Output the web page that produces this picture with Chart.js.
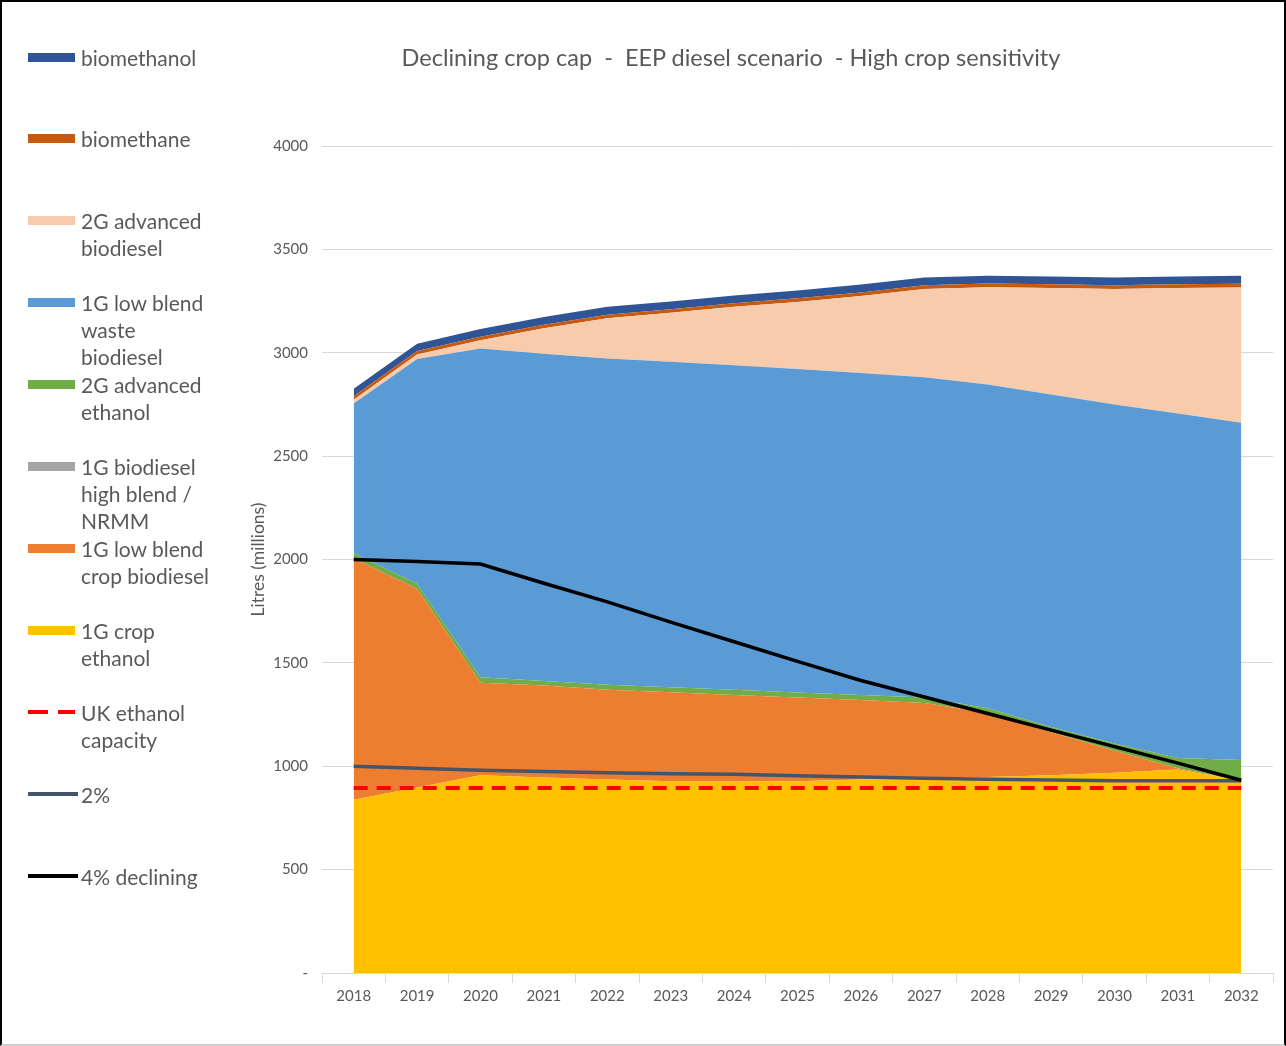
<!DOCTYPE html>
<html>
<head>
<meta charset="utf-8">
<title>Declining crop cap - EEP diesel scenario - High crop sensitivity</title>
<script src="https://cdn.jsdelivr.net/npm/chart.js@4.4.1/dist/chart.umd.min.js"></script>
<style>
  html, body { margin: 0; padding: 0; background: #fff; }
  #chart { position: absolute; left: 0; top: 0; }
  #frame {
    position: absolute; left: 0; top: 0; width: 1286px; height: 1046px;
    box-sizing: border-box; border: 2px solid #000; border-bottom-color: #cfcfcf;
    pointer-events: none;
  }
  #title {
    position: absolute; left: 0; top: 42px; width: 1462px; text-align: center;
    font: 23.5px/30px Lato, "Open Sans", sans-serif; color: #595959; white-space: pre;
  }
  .item {
    position: absolute; left: 81px; font: 21px/27px Lato, "Open Sans", sans-serif;
    color: #595959; white-space: pre;
  }
  .swatch { position: absolute; left: 28px; width: 47px; }
</style>
</head>
<body>
<canvas id="chart" width="1286" height="1046"></canvas>
<div id="title">Declining crop cap  -  EEP diesel scenario  - High crop sensitivity</div>
<div id="legend"></div>
<div id="frame"></div>
<script>
const years = ['2018', '2019', '2020', '2021', '2022', '2023', '2024', '2025',
               '2026', '2027', '2028', '2029', '2030', '2031', '2032'];

// stacked volumes, litres (millions), bottom to top
const cropEthanol      = [838, 897, 956, 945, 936, 928, 926, 927, 936, 941, 948, 956, 968, 984, 930];
const cropBiodiesel    = [1167, 961, 448, 445, 434, 430, 419, 406, 385, 365, 310, 209, 107, 6, 0];
const highBlendNrmm    = [0, 0, 0, 0, 0, 0, 0, 0, 0, 0, 0, 0, 0, 0, 0];
const advancedEthanol  = [25, 25, 26, 22, 24, 24, 25, 24, 24, 26, 22, 25, 35, 50, 100];
const wasteBiodiesel   = [724, 1087, 1590, 1583, 1578, 1575, 1570, 1565, 1557, 1550, 1566, 1608, 1640, 1666, 1631];
const advancedBiodiesel = [19, 21, 41, 123, 195, 236, 282, 324, 372, 426, 471, 515, 558, 607, 655];
const biomethane       = [17, 17, 16, 17, 17, 17, 17, 17, 18, 18, 18, 18, 18, 18, 18];
const biomethanol      = [36, 35, 38, 38, 38, 38, 38, 38, 38, 38, 38, 38, 38, 38, 38];

// reference lines
const ukEthanolCapacity = [895, 895, 895, 895, 895, 895, 895, 895, 895, 895, 895, 895, 895, 895, 895];
const twoPercent        = [1000, 990, 981, 975, 968, 964, 961, 954, 948, 942, 937, 933, 930, 930, 930];
const fourPercentDecl   = [2000, 1990, 1978, 1885, 1795, 1697, 1602, 1507, 1415, 1335, 1255, 1175, 1095, 1015, 932];

const FONT = 'Lato, "Open Sans", sans-serif';
const GREY_TEXT = '#595959';

function area(label, data, color, idx) {
  return {
    label, data, type: 'line',
    backgroundColor: color, borderColor: color, borderWidth: 0,
    pointRadius: 0, tension: 0,
    fill: idx === 0 ? 'origin' : '-1',
    stack: 'fuels', order: 1,
  };
}

function refLine(label, data, color, width, dash, order) {
  return {
    label, data, type: 'line',
    borderColor: color, backgroundColor: color, borderWidth: width,
    borderDash: dash, borderCapStyle: 'butt',
    pointRadius: 0, tension: 0, fill: false,
    stack: label, order,
  };
}

const areas = [
  ['1G crop ethanol', cropEthanol, '#ffc000'],
  ['1G low blend crop biodiesel', cropBiodiesel, '#ed7d31'],
  ['1G biodiesel high blend / NRMM', highBlendNrmm, '#a5a5a5'],
  ['2G advanced ethanol', advancedEthanol, '#70ad47'],
  ['1G low blend waste biodiesel', wasteBiodiesel, '#5b9bd5'],
  ['2G advanced biodiesel', advancedBiodiesel, '#f8cbad'],
  ['biomethane', biomethane, '#c55a11'],
  ['biomethanol', biomethanol, '#2f5597'],
].map((a, i) => area(a[0], a[1], a[2], i));

const lines = [
  refLine('UK ethanol capacity', ukEthanolCapacity, '#ff0000', 4, [14, 9], 0),
  refLine('2%', twoPercent, '#44546a', 3.5, [], -1),
  refLine('4% declining', fourPercentDecl, '#000000', 3.5, [], -2),
];

new Chart(document.getElementById('chart'), {
  type: 'line',
  data: { labels: years, datasets: [...areas, ...lines] },
  options: {
    responsive: false,
    devicePixelRatio: 1,
    animation: false,
    layout: { padding: { left: 240, right: 13, top: 146, bottom: 0 } },
    plugins: { legend: { display: false }, tooltip: { enabled: false } },
    scales: {
      x: {
        offset: true,
        grid: { offset: true, drawOnChartArea: false, drawTicks: true, tickLength: 10, color: '#d9d9d9' },
        border: { color: '#d9d9d9' },
        ticks: { color: GREY_TEXT, font: { family: FONT, size: 15 }, padding: 4, maxRotation: 0 },
        afterFit: s => { s.height = 73; },
      },
      y: {
        stacked: true,
        min: 0, max: 4000,
        ticks: {
          stepSize: 500, color: GREY_TEXT, font: { family: FONT, size: 15 }, padding: 14,
          callback: v => (v === 0 ? '-' : v),
        },
        grid: { color: '#d9d9d9', drawTicks: false },
        border: { display: false },
        title: { display: true, text: 'Litres (millions)', color: GREY_TEXT, font: { family: FONT, size: 17.5 }, padding: 8 },
        afterFit: s => { s.width = 82; },
      },
    },
  },
});

// legend down the left side, top entry first, one slot per series
const legendEntries = [
  { text: 'biomethanol', ds: areas[7] },
  { text: 'biomethane', ds: areas[6] },
  { text: '2G advanced\nbiodiesel', ds: areas[5] },
  { text: '1G low blend\nwaste\nbiodiesel', ds: areas[4] },
  { text: '2G advanced\nethanol', ds: areas[3] },
  { text: '1G biodiesel\nhigh blend /\nNRMM', ds: areas[2] },
  { text: '1G low blend\ncrop biodiesel', ds: areas[1] },
  { text: '1G crop\nethanol', ds: areas[0] },
  { text: 'UK ethanol\ncapacity', ds: lines[0] },
  { text: '2%', ds: lines[1] },
  { text: '4% declining', ds: lines[2] },
];

const legend = document.getElementById('legend');
legendEntries.forEach((entry, i) => {
  const mid = 57 + i * 81.9;
  const label = document.createElement('div');
  label.className = 'item';
  label.style.top = (mid - 13.5) + 'px';
  label.textContent = entry.text;
  legend.appendChild(label);

  const ds = entry.ds;
  if (ds.fill === false) {
    const h = ds.borderWidth;
    if (ds.borderDash.length) {
      [[28, 20], [58, 17]].forEach(([x, w]) => {
        const d = document.createElement('div');
        d.className = 'swatch';
        Object.assign(d.style, { left: x + 'px', width: w + 'px', top: (mid - h / 2) + 'px', height: h + 'px', background: ds.borderColor });
        legend.appendChild(d);
      });
    } else {
      const d = document.createElement('div');
      d.className = 'swatch';
      Object.assign(d.style, { width: '50px', top: (mid - h / 2) + 'px', height: h + 'px', background: ds.borderColor });
      legend.appendChild(d);
    }
  } else {
    const d = document.createElement('div');
    d.className = 'swatch';
    Object.assign(d.style, { top: (mid - 4.5) + 'px', height: '9px', background: ds.backgroundColor });
    legend.appendChild(d);
  }
});
</script>
</body>
</html>
